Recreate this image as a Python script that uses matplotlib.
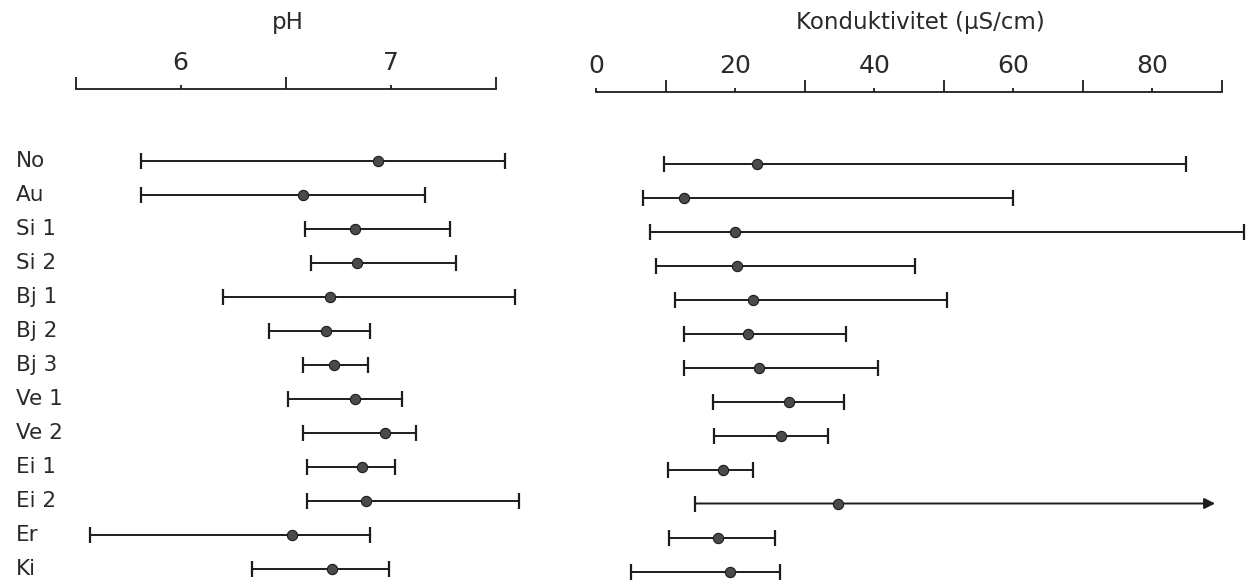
import numpy as np
import matplotlib.pyplot as plt
from matplotlib import transforms

plt.rcParams['font.family'] = ['DejaVu Sans']

# stations, top to bottom
stations = ['No', 'Au', 'Si 1', 'Si 2', 'Bj 1', 'Bj 2', 'Bj 3',
            'Ve 1', 'Ve 2', 'Ei 1', 'Ei 2', 'Er', 'Ki']

# pH: min, mean, max
ph_lo = [5.81, 5.81, 6.59, 6.62, 6.20, 6.42, 6.58, 6.51, 6.58, 6.60, 6.60, 5.57, 6.34]
ph_mid = [6.94, 6.58, 6.83, 6.84, 6.71, 6.69, 6.73, 6.83, 6.97, 6.86, 6.88, 6.53, 6.72]
ph_hi = [7.54, 7.16, 7.28, 7.31, 7.59, 6.90, 6.89, 7.05, 7.12, 7.02, 7.61, 6.90, 6.99]

# konduktivitet (uS/cm): min, mean, max  (Ei 2 max is off the scale -> arrow)
ko_lo = [9.8, 6.7, 7.8, 8.6, 11.4, 12.6, 12.6, 16.8, 17.0, 10.4, 14.2, 10.5, 5.0]
ko_mid = [23.1, 12.7, 20.0, 20.3, 22.6, 21.9, 23.5, 27.8, 26.6, 18.2, 34.8, 17.5, 19.3]
ko_hi = [84.8, 60.0, 93.1, 45.9, 50.5, 36.0, 40.6, 35.6, 33.4, 22.5, 89.0, 25.8, 26.4]
ko_open = [False] * 10 + [True] + [False] * 2

ph_ticks = [6, 7]
ph_minor = [5.5, 6.5, 7.5]
ko_ticks = [0, 20, 40, 60, 80]
ko_minor = [10, 30, 50, 70, 90]

W, H = 1252, 582
ink = '#1c1c1c'
dotc = '#4a4a4a'
txt = '#2a2a2a'

fig = plt.figure(figsize=(W / 100, H / 100), dpi=100)


def setup(xlim, xref, xref_px, px_per, top_px, row0_px, step=34.0, bottom_px=580):
    left_px = xref_px - (xref - xlim[0]) * px_per
    right_px = xref_px + (xlim[1] - xref) * px_per
    ax = fig.add_axes([left_px / W, 1 - bottom_px / H,
                       (right_px - left_px) / W, (bottom_px - top_px) / H])
    ax.set_xlim(*xlim)
    ax.set_ylim((bottom_px - row0_px) / step, -(row0_px - top_px) / step)
    for s in ['left', 'right', 'bottom']:
        ax.spines[s].set_visible(False)
    ax.spines['top'].set_linewidth(1.3)
    ax.spines['top'].set_color(ink)
    ax.set_yticks([])
    ax.xaxis.tick_top()
    ax.patch.set_alpha(0)
    return ax


def draw_rows(ax, lo, mid, hi, open_end=None):
    y = np.arange(len(lo))
    lo = np.array(lo); mid = np.array(mid); hi = np.array(hi)
    closed = np.ones(len(lo), bool) if open_end is None else ~np.array(open_end)
    ax.errorbar(mid[closed], y[closed],
                xerr=[mid[closed] - lo[closed], hi[closed] - mid[closed]],
                fmt='none', ecolor=ink, elinewidth=1.4, capsize=5.6, capthick=1.6,
                clip_on=False)
    if open_end is not None:
        for i in np.where(~closed)[0]:
            ax.annotate('', xy=(hi[i], y[i]), xytext=(lo[i], y[i]),
                        arrowprops=dict(arrowstyle='-|>', lw=1.4, color=ink,
                                        mutation_scale=16, shrinkA=0, shrinkB=0),
                        annotation_clip=False)
            ax.plot([lo[i]], [y[i]], marker='|', ms=11.2, mew=1.6, color=ink,
                    clip_on=False)
    ax.plot(mid, y, 'o', ms=7.4, mfc=dotc, mec=ink, mew=0.8, clip_on=False, zorder=5)


# pH panel
ax1 = setup((5.35, 7.72), 6.0, 180.7, 210.3, top_px=89, row0_px=161)
ax1.spines['top'].set_bounds(5.5, 7.5)
ax1.set_xticks(ph_ticks)
ax1.set_xticks(ph_minor, minor=True)
ax1.set_xticklabels([str(t) for t in ph_ticks])
draw_rows(ax1, ph_lo, ph_mid, ph_hi)

# konduktivitet panel
ax2 = setup((-3, 93.5), 0.0, 596.0, 6.956, top_px=92, row0_px=163.5)
ax2.spines['top'].set_bounds(0, 90)
ax2.set_xticks(ko_ticks)
ax2.set_xticks(ko_minor, minor=True)
ax2.set_xticklabels([str(t) for t in ko_ticks])
draw_rows(ax2, ko_lo, ko_mid, ko_hi, ko_open)

for ax in (ax1, ax2):
    ax.tick_params(axis='x', which='major', direction='out', length=3, width=1.3,
                   color=ink, labelsize=18, labelcolor=txt, pad=7)
    ax.tick_params(axis='x', which='minor', direction='out', length=9, width=1.3,
                   color=ink)

# row labels
trans = transforms.blended_transform_factory(fig.transFigure, ax1.transData)
for i, name in enumerate(stations):
    fig.text(16 / W, i, name, transform=trans, ha='left', va='center',
             fontsize=15.5, color=txt)

fig.text(288 / W, 1 - 22 / H, 'pH', ha='center', va='center', fontsize=16.5,
         color=txt)
fig.text(920 / W, 1 - 22 / H, 'Konduktivitet (µS/cm)', ha='center', va='center',
         fontsize=16.5, color=txt)

fig.savefig('out.png', dpi=100)
